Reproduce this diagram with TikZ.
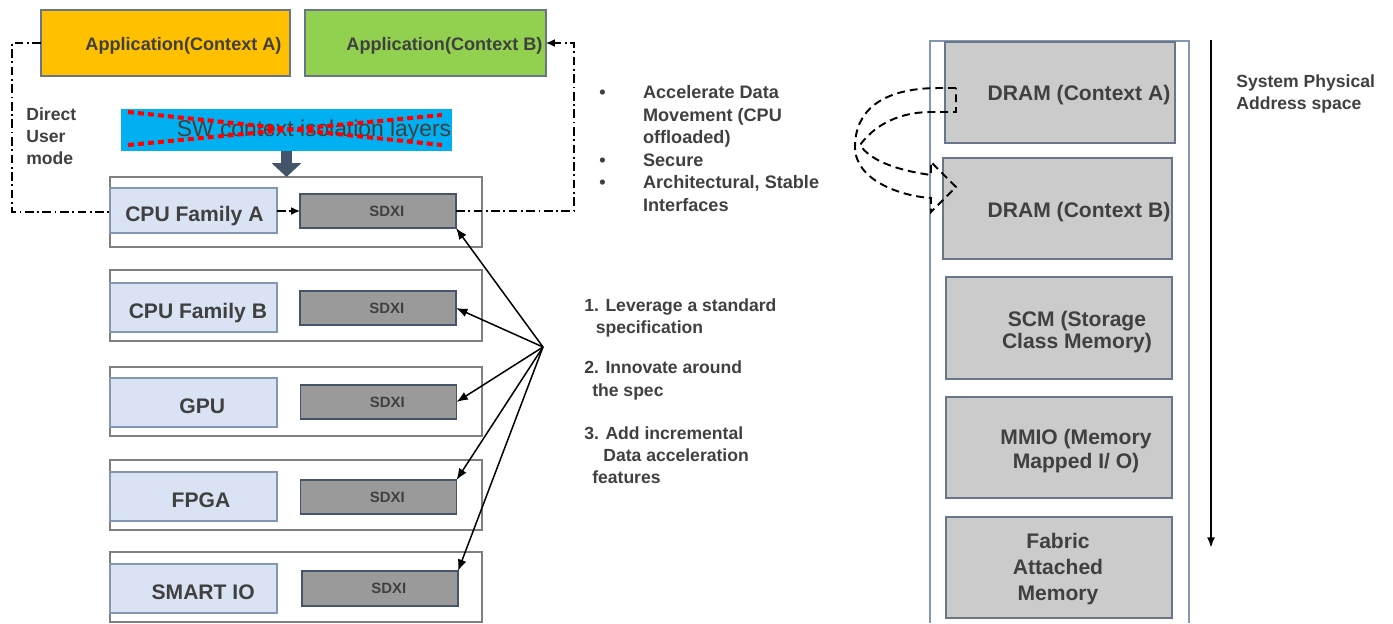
\documentclass[tikz,border=0pt]{standalone}
\usepackage{fontspec}
\setmainfont{Liberation Sans}
\usetikzlibrary{arrows.meta}

\definecolor{txtgray}{HTML}{404040}
\definecolor{appAfill}{HTML}{FFC000}
\definecolor{appBfill}{HTML}{92D050}
\definecolor{swblue}{HTML}{00B0F0}
\definecolor{cpufill}{HTML}{DAE3F3}
\definecolor{cpuline}{HTML}{8497B0}
\definecolor{sdxifill}{HTML}{9A9A9A}
\definecolor{slate}{HTML}{44546A}
\definecolor{memfill}{HTML}{CBCBCB}
\definecolor{framegray}{HTML}{7F7F7F}

\begin{document}
\begin{tikzpicture}[x=0.02cm, y=-0.02cm, text=txtgray,
    sizedbox/.style 2 args={draw, inner sep=0pt, outer sep=0pt,
        minimum width=#1*0.02cm, minimum height=#2*0.02cm},
    appbox/.style={draw=slate!80, line width=0.6pt},
    rowbox/.style={sizedbox={372}{#1}, draw=framegray, line width=0.9pt, fill=white},
    cpubox/.style={sizedbox={167}{#1}, draw=cpuline, fill=cpufill, line width=0.6pt,
        text height=12pt, text depth=0pt, font=\fontsize{12}{14}\selectfont\bfseries},
    sdxibox/.style={sizedbox={156}{#1}, draw=slate, fill=sdxifill, line width=0.9pt,
        execute at begin node={\hspace*{10pt}}, font=\fontsize{8.5}{10}\selectfont\bfseries},
    membox/.style={draw=slate!80, fill=memfill, line width=0.6pt},
    lbl/.style={inner sep=0pt, font=\fontsize{10}{12.6}\selectfont\bfseries},
    memlbl/.style={inner sep=0pt, font=\fontsize{12}{13}\selectfont\bfseries},
    userpath/.style={line width=0.85pt, dash pattern=on 5pt off 2pt on 1pt off 2pt},
    isodots/.style={red, line width=2.3pt, dash pattern=on 3.4pt off 2.3pt},
    slab/.style={slate, line width=6.2pt, -{Triangle[length=7.9pt,width=16.4pt]}},
    link/.style={line width=0.85pt, -{Latex[length=6.5pt,width=5pt]}},
    movearrow/.style={line width=1.1pt, dash pattern=on 4.5pt off 2.8pt}]

    \useasboundingbox (0,0) rectangle (1393,623);

    % Applications
    \node[appbox, fill=appAfill, sizedbox={249}{66}] (appA) at (165.5,43) {};
    \node[appbox, fill=appBfill, sizedbox={241}{66}] (appB) at (425.5,43) {};
    \node[lbl, font=\fontsize{10.3}{12}\selectfont\bfseries] (appAtxt) at (183.5,45.5) {Application(Context A)};
    \node[lbl, font=\fontsize{10.3}{12}\selectfont\bfseries] (appBtxt) at (444.5,45.5) {Application(Context B)};

    % SW layers, crossed out
    \node[sizedbox={331}{42}, draw=none, fill=swblue] (swl) at (286.5,130) {};
    \node[inner sep=0pt, font=\fontsize{13}{15}\selectfont] (swltxt) at (314,131) {SW context isolation layers};
    \draw[isodots] (128,112) -- (442,145);
    \draw[isodots] (128,145) -- (442,115);

    % Devices with SDXI
    \node[rowbox=70] (rowA) at (296,212) {};
    \node[cpubox=45] (cpuA) at (193.5,210.5) {\hspace*{1pt}CPU Family A};
    \node[sdxibox=34] (sdxiA) at (378,211) {SDXI};

    \node[rowbox=71] (rowB) at (296,305.5) {};
    \node[cpubox=49] (cpuB) at (193.5,307.5) {\hspace*{5pt}CPU Family B};
    \node[sdxibox=34] (sdxiB) at (378,308) {SDXI};

    \node[rowbox=69] (rowC) at (296,401.5) {};
    \node[cpubox=49] (cpuC) at (193.5,402.5) {\hspace*{10pt}GPU};
    \node[sdxibox=34] (sdxiC) at (378.5,402) {SDXI};

    \node[rowbox=70] (rowD) at (296,495) {};
    \node[cpubox=49] (cpuD) at (193.5,496.5) {\hspace*{8.5pt}FPGA};
    \node[sdxibox=34] (sdxiD) at (378.5,497) {SDXI};

    \node[rowbox=70] (rowE) at (296,587) {};
    \node[cpubox=49] (cpuE) at (193.5,588.5) {\hspace*{11pt}SMART IO};
    \node[sdxibox=35] (sdxiE) at (380,588.5) {SDXI};

    % Down arrow through the SW layers
    \draw[slab] (swl.south) -- (swl.south |- rowA.north);

    % Direct user mode path
    \draw[userpath] (appA.west) -- ++(-29,0) |- (rowA.west);
    \draw[userpath, -{Latex[length=5pt,width=4.5pt]}] (cpuA.east |- sdxiA.west) -- (sdxiA.west);
    \draw[userpath, -{Latex[length=5pt,width=4.5pt]}] (sdxiA.east) -- ++(118,0) |- (appB.east);
    \node[lbl, align=left, anchor=north west, font=\fontsize{10}{12.75}\selectfont\bfseries]
        (usermode) at (26,107) {Direct\\User\\mode};

    % Goals
    \node[lbl, align=left, anchor=north west, font=\fontsize{10.3}{12.8}\selectfont\bfseries]
        (goals) at (599,85.5) {%
        \makebox[24.9pt][l]{\textbullet}Accelerate Data\\
        \hspace*{24.9pt}Movement (CPU\\
        \hspace*{24.9pt}offloaded)\\
        \makebox[24.9pt][l]{\textbullet}Secure\\
        \makebox[24.9pt][l]{\textbullet}Architectural, Stable\\
        \hspace*{24.9pt}Interfaces};

    % Standard spec fan-out
    \coordinate (hub) at (543,347);
    \draw[link] (hub) -- (sdxiA.south east);
    \draw[link] (hub) -- (sdxiB.east);
    \draw[link] (hub) -- (sdxiC.east);
    \draw[link] (hub) -- (sdxiD.north east);
    \draw[link] (hub) -- (sdxiE.north east);

    \node[lbl, align=left, anchor=north west, font=\fontsize{10}{12.5}\selectfont\bfseries]
        (leverage) at (584,298) {1. Leverage a standard\\\hspace*{6.5pt}specification};
    \node[lbl, align=left, anchor=north west, font=\fontsize{10}{12.8}\selectfont\bfseries]
        (innovate) at (584,360.5) {2. Innovate around\\\hspace*{4.5pt}the spec};
    \node[lbl, align=left, anchor=north west, font=\fontsize{10}{12.5}\selectfont\bfseries]
        (increment) at (584,426.5) {3. Add incremental\\\hspace*{10.8pt}Data acceleration\\\hspace*{4.5pt}features};

    % System physical address space
    \draw[line width=0.6pt, draw=cpuline] (930,623) |- (1189,41) -- (1189,623);
    \node[membox, sizedbox={230}{101}] (dramA) at (1060,92.5) {};
    \node[membox, sizedbox={229}{101}] (dramB) at (1057.5,208.5) {};
    \node[membox, sizedbox={226}{102}] (scm) at (1059,328) {};
    \node[membox, sizedbox={226}{101}] (mmio) at (1059,447.5) {};
    \node[membox, sizedbox={226}{101}] (fabric) at (1059,567.5) {};

    \node[memlbl] (dramAtxt) at (1079,95) {DRAM (Context A)};
    \node[memlbl] (dramBtxt) at (1079,212) {DRAM (Context B)};
    \node[memlbl, align=center] (scmtxt) at (1077,332) {SCM (Storage\\Class Memory)};
    \node[memlbl, align=center, font=\fontsize{12}{13.6}\selectfont\bfseries]
        (mmiotxt) at (1076,451) {MMIO (Memory\\Mapped I/ O)};
    \node[memlbl, align=center, font=\fontsize{12}{14.7}\selectfont\bfseries]
        (fabrictxt) at (1058,569) {Fabric\\Attached\\Memory};

    % Context A to context B move
    \draw[movearrow] (956,88) -- (939,88) .. controls (880,88) and (855,112) .. (855,147)
        .. controls (855,180) and (900,196) .. (931,198) -- (931,212) -- (956,187)
        -- (931,162) -- (931,175) .. controls (895,170) and (870,160) .. (860,145)
        .. controls (880,118) and (910,112) .. (931,112) -- (956,112) -- cycle;

    \coordinate (spaTop) at (1211,40);
    \coordinate (spaEnd) at (1211,548);
    \draw[line width=1.1pt, -{Latex[length=6pt,width=4.5pt]}] (spaTop) -- (spaEnd);
    \node[lbl, align=left, anchor=north west, font=\fontsize{10}{12.2}\selectfont\bfseries]
        (spatxt) at (1236,74.5) {System Physical\\Address space};
\end{tikzpicture}
\end{document}
